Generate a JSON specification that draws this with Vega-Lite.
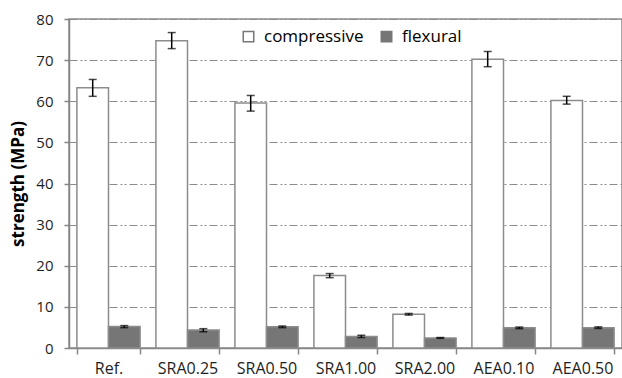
{
  "$schema": "https://vega.github.io/schema/vega-lite/v6.json",
  "width": 553,
  "height": 329,
  "autosize": {"type": "none"},
  "padding": {"left": 69, "top": 19, "right": 0, "bottom": 30},
  "background": "white",
  "config": {
    "font": "Open Sans",
    "view": {"stroke": "#8c8c8c", "strokeWidth": 1.5}
  },
  "data": {
    "values": [
      {"group": "Ref.", "type": "compressive", "value": 63.3, "lo": 61.2, "hi": 65.3},
      {"group": "Ref.", "type": "flexural", "value": 5.2, "lo": 4.95, "hi": 5.45},
      {"group": "SRA0.25", "type": "compressive", "value": 74.7, "lo": 72.8, "hi": 76.7},
      {"group": "SRA0.25", "type": "flexural", "value": 4.35, "lo": 3.95, "hi": 4.7},
      {"group": "SRA0.50", "type": "compressive", "value": 59.6, "lo": 57.6, "hi": 61.4},
      {"group": "SRA0.50", "type": "flexural", "value": 5.15, "lo": 4.95, "hi": 5.35},
      {"group": "SRA1.00", "type": "compressive", "value": 17.6, "lo": 17.1, "hi": 18.1},
      {"group": "SRA1.00", "type": "flexural", "value": 2.8, "lo": 2.55, "hi": 3.1},
      {"group": "SRA2.00", "type": "compressive", "value": 8.2, "lo": 8.0, "hi": 8.4},
      {"group": "SRA2.00", "type": "flexural", "value": 2.45, "lo": 2.35, "hi": 2.55},
      {"group": "AEA0.10", "type": "compressive", "value": 70.2, "lo": 68.4, "hi": 72.1},
      {"group": "AEA0.10", "type": "flexural", "value": 4.9, "lo": 4.7, "hi": 5.1},
      {"group": "AEA0.50", "type": "compressive", "value": 60.2, "lo": 59.3, "hi": 61.2},
      {"group": "AEA0.50", "type": "flexural", "value": 4.95, "lo": 4.75, "hi": 5.15}
    ]
  },
  "encoding": {
    "x": {
      "field": "group",
      "type": "nominal",
      "sort": null,
      "scale": {"paddingInner": 0.2, "paddingOuter": 0.1},
      "axis": {
        "title": null,
        "labelAngle": 0,
        "tickBand": "extent",
        "tickSize": 6,
        "tickColor": "#868686",
        "tickWidth": 1.5,
        "domainColor": "#868686",
        "domainWidth": 1.5,
        "labelFontSize": 16,
        "labelColor": "#1e1e1e",
        "labelPadding": 6,
        "grid": false
      }
    },
    "xOffset": {
      "field": "type",
      "type": "nominal",
      "sort": ["compressive", "flexural"],
      "scale": {"paddingInner": 0, "paddingOuter": 0}
    }
  },
  "layer": [
    {
      "mark": {"type": "bar", "stroke": "#8c8c8c", "strokeWidth": 1.5},
      "encoding": {
        "y": {
          "field": "value",
          "type": "quantitative",
          "scale": {"domain": [0, 80]},
          "axis": {
            "values": [0, 10, 20, 30, 40, 50, 60, 70, 80],
            "title": "strength (MPa)",
            "titleFontSize": 17,
            "titleFontWeight": "bold",
            "titleColor": "black",
            "titlePadding": 8,
            "labelFontSize": 15,
            "labelColor": "#1e1e1e",
            "labelPadding": 11,
            "tickSize": 5,
            "tickColor": "#868686",
            "tickWidth": 1.5,
            "domainColor": "#868686",
            "domainWidth": 1.5,
            "grid": true,
            "gridColor": "#8c8c8c",
            "gridWidth": 1.2,
            "gridDash": [8, 3, 2, 2, 2, 3]
          }
        },
        "fill": {
          "field": "type",
          "type": "nominal",
          "scale": {"domain": ["compressive", "flexural"], "range": ["white", "#767676"]},
          "legend": {
            "title": null,
            "orient": "none",
            "legendX": 171,
            "legendY": 9,
            "direction": "horizontal",
            "labelFontSize": 17,
            "labelColor": "black",
            "symbolType": "square",
            "symbolSize": 110,
            "symbolStrokeColor": "#777777",
            "symbolStrokeWidth": 1.5,
            "columnPadding": 14,
            "labelOffset": 7
          }
        }
      }
    },
    {
      "mark": {"type": "rule", "color": "black", "strokeWidth": 1.5},
      "encoding": {
        "y": {"field": "lo", "type": "quantitative"},
        "y2": {"field": "hi"}
      }
    },
    {
      "mark": {"type": "tick", "color": "black", "thickness": 1.5, "size": 8},
      "encoding": {"y": {"field": "lo", "type": "quantitative"}}
    },
    {
      "mark": {"type": "tick", "color": "black", "thickness": 1.5, "size": 8},
      "encoding": {"y": {"field": "hi", "type": "quantitative"}}
    }
  ]
}
